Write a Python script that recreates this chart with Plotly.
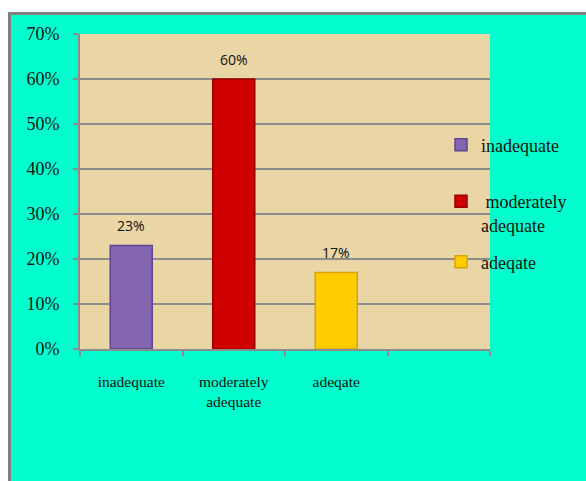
import plotly.graph_objects as go

categories = ["inadequate", "moderately<br>adequate", "adeqate"]
legend_names = ["inadequate", " moderately<br>adequate", "adeqate"]
values = [0.23, 0.60, 0.17]
axis_slots = ["inadequate", "moderately<br>adequate", "adeqate", " "]

bar_colors = ["#8466B0", "#D00000", "#FFCC00"]
bar_lines = ["#5E4690", "#9A0000", "#D9A400"]

W, H = 586, 481
L, R, T, B = 80, 96, 34, 132
pw, ph = W - L - R, H - T - B

def px(X):
    return (X - L) / pw

def py(Y):
    return (H - B - Y) / ph

legend_ids = ["legend", "legend2", "legend3"]
legend_centers = [145, 213, 262]

fig = go.Figure()
for name, lname, v, c, lc, lid in zip(categories, legend_names, values, bar_colors, bar_lines, legend_ids):
    fig.add_trace(go.Bar(
        x=[name], y=[v], name=lname, legend=lid,
        width=0.41,
        marker=dict(color=c, line=dict(color=lc, width=1.5)),
        hoverinfo="skip",
    ))
    fig.add_annotation(
        x=name, y=v, text=f"{v:.0%}", showarrow=False,
        yshift=20, font=dict(family="Open Sans", size=14, color="#111"),
    )

fig.add_shape(type="rect", xref="paper", yref="paper",
              x0=px(9.5), x1=px(700), y0=py(700), y1=py(13.5),
              fillcolor="#00FFCC", line=dict(color="#808080", width=3), layer="below")
fig.add_shape(type="rect", xref="paper", yref="paper",
              x0=0, x1=1, y0=0, y1=1,
              fillcolor="#EAD5A5", line=dict(width=0), layer="below")

legend_style = dict(
    xanchor="left", yanchor="middle",
    bgcolor="rgba(0,0,0,0)",
    font=dict(family="Liberation Serif", size=18, color="#111"),
    valign="top", itemwidth=30,
)

fig.update_layout(
    width=W, height=H,
    margin=dict(l=L, r=R, t=T, b=B, autoexpand=False),
    paper_bgcolor="white",
    plot_bgcolor="rgba(0,0,0,0)",
    barmode="overlay",
    showlegend=True,
    legend=dict(x=px(441), y=py(legend_centers[0]), **legend_style),
    legend2=dict(x=px(441), y=py(legend_centers[1]), **legend_style),
    legend3=dict(x=px(441), y=py(legend_centers[2]), **legend_style),
    xaxis=dict(
        type="category", categoryorder="array", categoryarray=axis_slots,
        range=[-0.5, 3.5], tickson="boundaries",
        showline=True, linecolor="#8c8c8c", linewidth=2,
        ticks="outside", ticklen=5, tickcolor="#8c8c8c", tickwidth=2,
        showgrid=False,
        tickfont=dict(family="Liberation Serif", size=15.5, color="#111"),
        ticklabelstandoff=17,
    ),
    yaxis=dict(
        range=[0, 0.7], dtick=0.1, tickformat=".0%",
        showline=True, linecolor="#8c8c8c", linewidth=2,
        ticks="outside", ticklen=5, tickcolor="#8c8c8c", tickwidth=2,
        showgrid=True, gridcolor="#8c8c8c", gridwidth=2,
        zeroline=False,
        tickfont=dict(family="Liberation Serif", size=18, color="#111"),
        ticklabelstandoff=10,
    ),
)

fig.write_html("out.html")
